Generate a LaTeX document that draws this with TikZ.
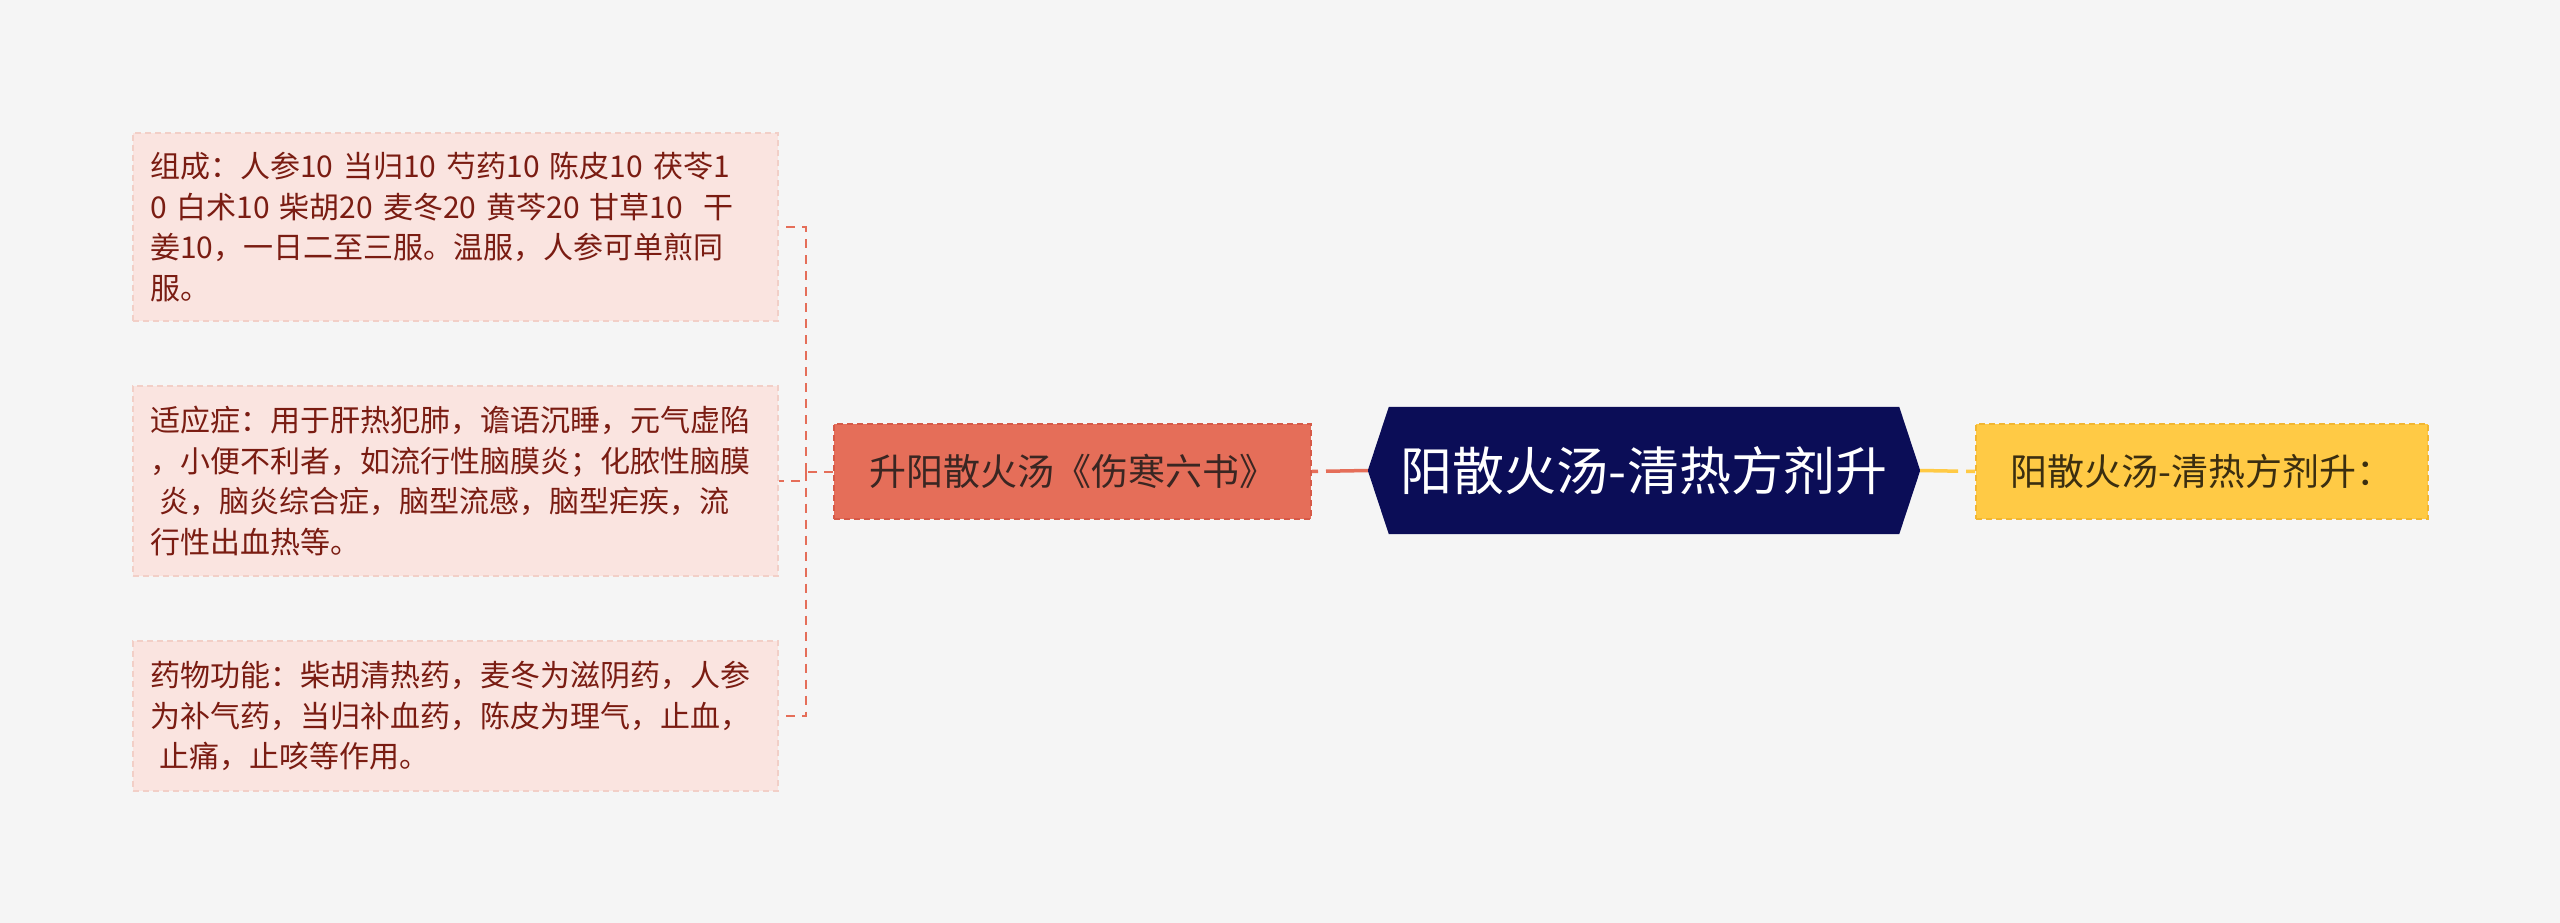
\documentclass[tikz,border=0pt]{standalone}
\usepackage{fontspec}
\setmainfont[WordSpace=0.7]{Noto Sans CJK SC}
\usetikzlibrary{backgrounds,calc}
\definecolor{bgc}{HTML}{F5F5F5}
\definecolor{pinkfill}{HTML}{FAE4E0}
\definecolor{pinkline}{HTML}{F2CFC7}
\definecolor{pinktext}{HTML}{7A1C12}
\definecolor{redfill}{HTML}{E56E59}
\definecolor{redline}{HTML}{D65A48}
\definecolor{redtext}{HTML}{3A2622}
\definecolor{navy}{HTML}{0B0D57}
\definecolor{yelfill}{HTML}{FFCA45}
\definecolor{yelline}{HTML}{F2B630}
\definecolor{yeltext}{HTML}{3B2E10}
\tikzset{
  leafbox/.style={draw=pinkline, fill=pinkfill, line width=2pt, dash pattern=on 6pt off 4pt,
    text=pinktext, font=\fontsize{30}{40.5}\selectfont, align=left, text width=611pt,
    inner xsep=17pt, inner ysep=0pt, minimum width=645pt, anchor=north west},
  rednode/.style={draw=redline, fill=redfill, line width=2pt, dash pattern=on 6pt off 4pt,
    text=redtext, font=\fontsize{37}{44}\selectfont, minimum width=477pt, minimum height=95pt, inner sep=0pt},
  yelnode/.style={draw=yelline, fill=yelfill, line width=2pt, dash pattern=on 6pt off 4pt,
    text=yeltext, font=\fontsize{37}{44}\selectfont, minimum width=452pt, minimum height=95pt, inner sep=0pt},
  centernode/.style={text=white, font=\fontsize{52}{60}\selectfont, minimum width=510pt, minimum height=127pt, inner sep=0pt},
  redconn/.style={draw=redfill, line width=2pt, dash pattern=on 9pt off 7pt},
  redmain/.style={draw=redfill, line width=3.5pt, dash pattern=on 6pt off 8pt on 40pt off 0pt},
  yelconn/.style={draw=yelfill, line width=3.5pt, dash pattern=on 38pt off 8pt on 8pt off 0pt},
}
\begin{document}
\begin{tikzpicture}[x=1pt,y=-1pt]
\begin{scope}[on background layer]
\fill[bgc] (0,0) rectangle (2560,923);
\end{scope}
\useasboundingbox (0,0) rectangle (2560,923);

\node[leafbox, minimum height=188pt] (b1) at (132,132) {组成：人参10 当归10 芍药10 陈皮10 茯苓1\\0 白术10 柴胡20 麦冬20 黄芩20 甘草10\ \ 干\\姜10，一日二至三服。温服，人参可单煎同\\服。};
\node[leafbox, minimum height=190pt] (b2) at (132,385) {适应症：用于肝热犯肺，谵语沉睡，元气虚陷\\，小便不利者，如流行性脑膜炎；化脓性脑膜\\\hspace*{0.3em}炎，脑炎综合症，脑型流感，脑型疟疾，流\\行性出血热等。};
\node[leafbox, minimum height=150pt] (b3) at (132,640) {药物功能：柴胡清热药，麦冬为滋阴药，人参\\为补气药，当归补血药，陈皮为理气，止血，\\\hspace*{0.3em}止痛，止咳等作用。};

\node[rednode] (r) at (1072.5,471.5) {升阳散火汤《伤寒六书》};
\node[centernode] (c) at (1644,470.5) {阳散火汤-清热方剂升};
\begin{scope}[on background layer]
\fill[navy] (c.north west) -- (c.north east) -- ($(c.east)+(21,0)$) -- (c.south east) -- (c.south west) -- ($(c.west)+(-21,0)$) -- cycle;
\end{scope}
\node[yelnode] (y) at (2202,471.5) {阳散火汤-清热方剂升：};

\coordinate (j) at (806,471.5);
\draw[redconn] (r.west) -- (j);
\draw[redconn] (j) |- (b1.east);
\draw[redconn] (j) |- (b2.east);
\draw[redconn] (j) |- (b3.east);
\draw[redmain] (r.east) -- ($(c.west)+(-21,0)$);
\draw[yelconn] ($(c.east)+(21,0)$) -- (y.west);
\end{tikzpicture}
\end{document}
